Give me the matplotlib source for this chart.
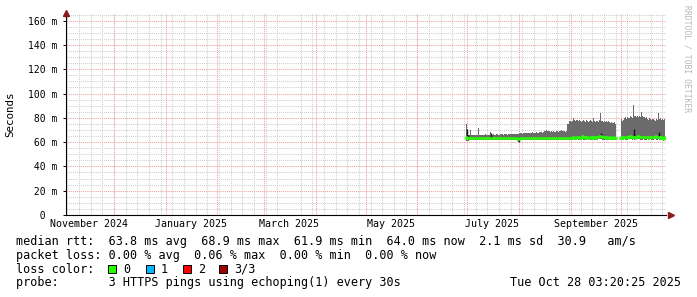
import numpy as np
import pandas as pd
import matplotlib
matplotlib.use('Agg')
import matplotlib.pyplot as plt
import matplotlib.dates as mdates
from matplotlib.patches import Rectangle

plt.rcParams['font.family'] = ['DejaVu Sans Mono']

W, H = 697, 297  # px
t_end = pd.Timestamp('2025-10-28 03:20:25')
t_start = t_end - pd.Timedelta(days=360)
first_sample = pd.Timestamp('2025-06-30 03:20')  # one sample per pixel column (864 min)

nan = np.nan
# smoke top (max of the 3 pings), ms
rtt_max = [66.0, 75.0, 68.5, 66.0, 66.2, 69.8, 66.0, 65.6, 65.8, 66.1,
           65.5, 65.9, 66.2, 71.3, 66.0, 65.7, 65.9, 66.2, 65.8, 66.0,
           66.3, 65.9, 66.1, 65.8, 66.0, 68.5, 66.2, 66.0, 66.4, 66.1,
           65.9, 66.3, 66.5, 66.2, 66.0, 66.4, 66.6, 66.3, 66.1, 66.5,
           66.7, 66.4, 66.2, 66.6, 66.8, 66.5, 66.3, 66.7, 66.9, 66.6,
           66.4, 66.8, 67.0, 66.7, 67.2, 67.4, 67.1, 66.9, 67.3, 67.6,
           67.4, 67.2, 67.7, 67.9, 67.5, 67.3, 67.8, 68.0, 67.7, 67.5,
           67.9, 68.1, 67.8, 67.6, 68.0, 68.3, 68.0, 67.8, 68.2, 68.9,
           69.3, 69.6, 69.2, 69.4, 69.0, 68.6, 68.8, 68.5, 68.9, 68.7,
           68.4, 68.8, 69.0, 68.6, 68.9, 69.4, 69.7, 69.2, 68.8, 69.0,
           68.7, 69.1, 74.6, 75.2, 77.3, 77.0, 76.8, 77.5, 79.5, 78.2,
           77.6, 78.4, 77.9, 77.1, 78.0, 77.4, 76.8, 77.7, 78.3, 77.2,
           76.9, 77.8, 77.3, 76.6, 77.5, 78.1, 77.0, 76.7, 79.6, 77.4,
           76.8, 77.6, 77.1, 76.5, 77.9, 84.3, 77.5, 77.0, 76.4, 77.3,
           76.8, 77.6, 76.2, 77.0, 76.5, 75.8, 76.9, 76.1, 75.4, 76.3,
           75.0, nan, nan, nan, nan, 78.8, 79.3, 77.6, 78.5, 79.9,
           80.6, 79.4, 81.0, 80.2, 79.6, 81.2, 80.5, 79.8, 90.5, 81.3,
           81.7, 80.9, 81.4, 80.6, 81.8, 80.8, 84.8, 81.2, 80.4, 81.0,
           79.8, 80.3, 79.2, 78.6, 79.5, 78.9, 77.8, 78.7, 79.4, 78.1,
           77.6, 78.8, 78.2, 84.2, 78.9, 79.5, 78.4, 79.2, 78.0, 79.0]

# median rtt, ms
rtt_med = [63.6, 64.5, 63.8, 63.2, 63.0, 63.3, 63.1, 63.0, 63.2, 63.1,
           63.0, 63.2, 63.1, 63.3, 63.0, 63.1, 63.2, 63.0, 63.1, 63.2,
           63.1, 63.0, 63.2, 63.1, 63.0, 63.4, 63.1, 63.2, 63.0, 63.1,
           63.2, 63.1, 63.0, 63.2, 63.1, 63.3, 63.1, 63.0, 63.2, 63.1,
           63.0, 63.1, 63.2, 63.0, 63.1, 63.2, 63.1, 63.0, 63.1, 63.2,
           63.1, 63.0, 62.6, 62.4, 63.0, 63.2, 63.1, 63.0, 63.2, 63.1,
           63.2, 63.1, 63.0, 63.2, 63.1, 63.0, 63.2, 63.1, 63.3, 63.1,
           63.0, 63.2, 63.1, 63.0, 63.2, 63.1, 63.0, 63.2, 63.1, 63.3,
           63.2, 63.1, 63.3, 63.2, 63.1, 63.3, 63.2, 63.1, 63.2, 63.3,
           63.1, 63.2, 63.3, 63.1, 63.2, 63.3, 63.2, 63.1, 63.3, 63.2,
           63.1, 63.3, 63.6, 63.8, 63.5, 63.7, 63.6, 63.9, 64.2, 63.8,
           63.6, 63.9, 64.3, 64.0, 63.7, 63.8, 64.1, 64.8, 64.2, 63.9,
           63.7, 64.0, 64.3, 63.8, 63.6, 63.9, 64.1, 63.7, 64.4, 64.0,
           63.8, 64.2, 63.9, 64.6, 64.9, 65.2, 64.8, 64.3, 63.9, 64.1,
           63.7, 63.9, 64.2, 63.8, 63.6, 64.0, 63.8, 63.7, 63.9, 63.8,
           63.7, nan, nan, nan, nan, 63.8, 64.0, 63.7, 63.9, 64.2,
           63.9, 64.1, 63.8, 64.3, 64.7, 65.0, 64.6, 64.2, 64.5, 64.0,
           63.8, 64.4, 64.9, 65.1, 64.6, 64.2, 63.9, 64.1, 64.5, 64.2,
           63.9, 64.0, 64.3, 63.8, 64.1, 64.6, 64.2, 63.9, 64.0, 64.4,
           64.8, 64.3, 64.0, 64.6, 64.1, 63.8, 64.0, 63.6, 62.8, 64.0]

# smoke bottom (min of the 3 pings), ms
rtt_min = [61.5, 61.0, 61.6, 61.8, 61.9, 61.8, 61.7, 61.9, 61.8, 61.9,
           61.8, 61.9, 61.8, 61.9, 61.7, 61.8, 61.9, 61.8, 61.8, 61.9,
           61.8, 61.7, 61.9, 61.8, 61.8, 61.6, 61.8, 61.9, 61.7, 61.8,
           61.9, 61.8, 61.7, 61.9, 61.8, 61.8, 61.9, 61.7, 61.8, 61.9,
           61.7, 61.8, 61.9, 61.7, 61.8, 61.9, 61.8, 61.7, 61.8, 61.9,
           61.8, 61.7, 60.8, 60.2, 61.7, 61.9, 61.8, 61.7, 61.9, 61.8,
           61.9, 61.8, 61.7, 61.9, 61.8, 61.7, 61.9, 61.8, 61.9, 61.8,
           61.7, 61.9, 61.8, 61.7, 61.9, 61.8, 61.7, 61.9, 61.8, 61.9,
           61.9, 61.8, 61.9, 61.9, 61.8, 61.9, 61.9, 61.8, 61.9, 61.9,
           61.8, 61.9, 61.9, 61.8, 61.9, 61.9, 61.9, 61.8, 61.9, 61.9,
           61.8, 61.9, 62.0, 62.1, 61.9, 62.0, 62.1, 62.0, 62.2, 62.0,
           61.9, 62.1, 62.2, 62.0, 61.9, 62.0, 62.1, 62.3, 62.1, 62.0,
           61.9, 62.1, 62.2, 62.0, 61.9, 62.0, 62.1, 61.9, 62.2, 62.1,
           62.0, 62.1, 62.0, 62.3, 62.4, 62.5, 62.3, 62.1, 62.0, 62.1,
           61.9, 62.0, 62.1, 62.0, 61.9, 62.1, 62.0, 61.9, 62.0, 62.0,
           61.9, nan, nan, nan, nan, 62.0, 62.1, 61.9, 62.0, 62.2,
           62.0, 62.1, 62.0, 62.2, 62.4, 62.5, 62.3, 62.1, 62.3, 62.0,
           62.0, 62.2, 62.4, 62.5, 62.3, 62.1, 62.0, 62.1, 62.3, 62.1,
           62.0, 62.0, 62.2, 62.0, 62.1, 62.3, 62.1, 62.0, 62.0, 62.2,
           62.3, 62.1, 62.0, 62.3, 62.1, 62.0, 62.0, 61.8, 60.8, 62.0]

# darker smoke streaks (sample index, low, high), ms
dark_idx = [1, 2, 25, 53, 135, 136, 168, 193]
dark_lo = [62.0, 62.0, 63.5, 60.5, 64.5, 64.0, 65.0, 64.0]
dark_hi = [70.5, 66.0, 67.5, 64.0, 67.5, 66.5, 70.5, 68.0]

x_labels = ['November 2024', 'January 2025', 'March 2025', 'May 2025',
            'July 2025', 'September 2025']
x_label_dates = ['2024-11-16', '2025-01-16', '2025-03-16', '2025-05-16',
                 '2025-07-16', '2025-09-16']
y_ticks = [0, 20, 40, 60, 80, 100, 120, 140, 160]
y_labels = ['  0  ', ' 20 m', ' 40 m', ' 60 m', ' 80 m', '100 m', '120 m', '140 m', '160 m']

legend_lines = [
    'median rtt:  63.8 ms avg  68.9 ms max  61.9 ms min  64.0 ms now  2.1 ms sd  30.9   am/s',
    'packet loss: 0.00 % avg  0.06 % max  0.00 % min  0.00 % now',
    'loss color:',
    'probe:       3 HTTPS pings using echoping(1) every 30s',
]
loss_labels = ['0', '1', '2', '3/3']
loss_colors = ['#26ff00', '#00b8ff', '#ff0000', '#a00000']
stamp = 'Tue Oct 28 03:20:25 2025'

smoke_color = '#6b6b6b'
arrow_color = '#8b1a1a'


def fx(px):
    return px / W


def fy(py):
    return 1 - py / H


fig = plt.figure(figsize=(W / 100, H / 100), dpi=100)
ax = fig.add_axes([fx(66), fy(215), 600 / W, 202 / H])

times = pd.date_range(first_sample, periods=len(rtt_max), freq='864min')
ax.fill_between(times, rtt_min, rtt_max, step='mid', color=smoke_color, lw=0, zorder=3)
for i, lo, hi in zip(dark_idx, dark_lo, dark_hi):
    ax.vlines(times[i], lo, hi, color='#151515', lw=1.0, zorder=4)
ax.plot(times, rtt_med, drawstyle='steps-mid', color=loss_colors[0], lw=1.8, zorder=5)

ax.set_xlim(t_start, t_end)
ax.set_ylim(0, 166.3)

# grid: weekly gray, monthly red; y every 5 gray, every 20 red
ax.xaxis.set_minor_locator(mdates.WeekdayLocator(byweekday=mdates.SU))
ax.set_yticks(np.arange(0, 166, 5), minor=True)
ax.grid(which='minor', color='#cfcfcf', lw=0.75, ls=(0, (1, 1)), zorder=1)
ax.grid(which='major', axis='y', color='#f0a0a0', lw=0.75, ls=(0, (1, 1)), zorder=2)
for m in pd.date_range('2024-12-01', '2025-10-01', freq='MS'):
    ax.axvline(m, color='#f0a0a0', lw=0.75, ls=(0, (1, 1)), zorder=2)

ax.set_xticks(pd.to_datetime(x_label_dates))
ax.set_xticklabels(x_labels, fontsize=7.2)
ax.set_yticks(y_ticks)
ax.set_yticklabels(y_labels, fontsize=7.0)
ax.tick_params(axis='x', which='both', length=0, pad=3)
ax.tick_params(axis='y', which='major', length=2, width=0.7, pad=4)
ax.tick_params(axis='y', which='minor', length=0)

for s in ['top', 'right']:
    ax.spines[s].set_visible(False)
for s in ['left', 'bottom']:
    ax.spines[s].set_linewidth(0.8)
    ax.spines[s].set_zorder(6)

# arrow heads
ax.plot([0], [1.0], marker='^', ms=4, color=arrow_color, transform=ax.transAxes, clip_on=False, zorder=7)
ax.plot([1.008], [0], marker='>', ms=4, color=arrow_color, transform=ax.transAxes, clip_on=False, zorder=7)

fig.text(fx(10), fy(114), 'Seconds', rotation=90, fontsize=7.8, ha='center', va='center')
fig.text(fx(687), fy(5), 'RRDTOOL / TOBI OETIKER', rotation=270, fontsize=5.8,
         color='#b8b8b8', ha='center', va='top')

rows = [241.7, 255, 269.3, 282.7]
for txt, r in zip(legend_lines, rows):
    fig.text(fx(16), fy(r), txt, fontsize=8.5, ha='left', va='center')
fig.text(fx(681), fy(rows[3]), stamp, fontsize=8.5, ha='right', va='center')

sw_x = [108, 145.5, 182.5, 219]
for x0, lab, c in zip(sw_x, loss_labels, loss_colors):
    fig.add_artist(Rectangle((fx(x0), fy(273)), 8 / W, 8 / H, transform=fig.transFigure,
                             facecolor=c, edgecolor='black', lw=0.7))
    fig.text(fx(x0 + 15.5), fy(rows[2]), lab, fontsize=8.5, ha='left', va='center')

fig.savefig('out.png', dpi=100)
